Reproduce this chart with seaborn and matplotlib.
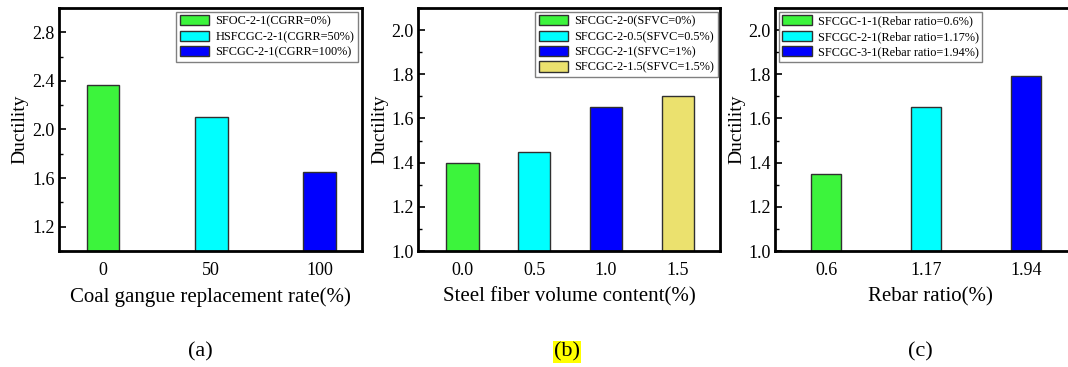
import matplotlib
matplotlib.use("Agg")
import matplotlib.pyplot as plt
import seaborn as sns
import pandas as pd
from matplotlib.ticker import MultipleLocator

# --- data ---
a_ticks = ["0", "50", "100"]
a_vals = [2.37, 2.10, 1.65]
a_names = ["SFOC-2-1(CGRR=0%)", "HSFCGC-2-1(CGRR=50%)", "SFCGC-2-1(CGRR=100%)"]

b_ticks = ["0.0", "0.5", "1.0", "1.5"]
b_vals = [1.40, 1.45, 1.65, 1.70]
b_names = ["SFCGC-2-0(SFVC=0%)", "SFCGC-2-0.5(SFVC=0.5%)",
           "SFCGC-2-1(SFVC=1%)", "SFCGC-2-1.5(SFVC=1.5%)"]

c_ticks = ["0.6", "1.17", "1.94"]
c_vals = [1.35, 1.65, 1.79]
c_names = ["SFCGC-1-1(Rebar ratio=0.6%)", "SFCGC-2-1(Rebar ratio=1.17%)",
           "SFCGC-3-1(Rebar ratio=1.94%)"]

green, cyan, blue, khaki = "#3cf43c", "#00ffff", "#0000ff", "#ebe16e"

sns.set_style("ticks")
plt.rcParams["font.family"] = ["Liberation Serif", "DejaVu Serif"]
for k in ["text.color", "axes.labelcolor", "xtick.color", "ytick.color"]:
    plt.rcParams[k] = "black"

fig = plt.figure(figsize=(10.68, 3.67), dpi=100)

# axes span from y=8px to y=251px (from top)
ybot = 1 - 251 / 367
h = (251 - 8) / 367


def panel(rect, ticks, vals, names, colors, width, xlim, ylim, major, minor,
          yticks_start, xlabel, legend_loc, legend_anchor, ylab_x):
    ax = fig.add_axes(rect)
    df = pd.DataFrame({"x": ticks, "y": vals, "name": names})
    sns.barplot(data=df, x="x", y="y", hue="name", order=ticks, hue_order=names,
                palette=colors, dodge=False, width=width, edgecolor="#303030",
                linewidth=1.0, saturation=1, ax=ax)
    ax.set_xlim(*xlim)
    ax.set_ylim(*ylim)
    ax.yaxis.set_major_locator(MultipleLocator(major))
    ax.yaxis.set_minor_locator(MultipleLocator(minor))
    yt = [t for t in ax.get_yticks() if t >= yticks_start - 1e-9 and t <= ylim[1] + 1e-9]
    ax.set_yticks(yt)
    ax.set_yticklabels([f"{t:.1f}" for t in yt])
    ax.tick_params(axis="y", which="major", direction="in", length=5, width=1.2,
                   labelsize=13, pad=3)
    ax.tick_params(axis="y", which="minor", direction="in", length=3, width=1.0)
    ax.tick_params(axis="x", length=0, labelsize=13, pad=8)
    for s in ax.spines.values():
        s.set_linewidth(2)
        s.set_color("black")
    ax.set_xlabel(xlabel, fontsize=15, labelpad=6)
    ax.set_ylabel("Ductility", fontsize=14)
    ax.yaxis.set_label_coords(ylab_x, 0.5)
    handles, labels = ax.get_legend_handles_labels()
    ax.legend(handles, labels, loc=legend_loc, bbox_to_anchor=legend_anchor,
              fontsize=8.8, frameon=True, fancybox=False, edgecolor="#808080",
              framealpha=1, handlelength=2.4, handleheight=0.9,
              labelspacing=0.25, borderpad=0.3, handletextpad=0.5,
              borderaxespad=0.3)
    return ax


panel([58.7 / 1068, ybot, 303 / 1068, h], a_ticks, a_vals, a_names,
      [green, cyan, blue], 0.30, (-0.41, 2.39), (1.0, 3.0), 0.4, 0.2, 1.2,
      "Coal gangue replacement rate(%)", "upper right", (1.0, 1.0), -0.10)

panel([418 / 1068, ybot, 302 / 1068, h], b_ticks, b_vals, b_names,
      [green, cyan, blue, khaki], 0.45, (-0.62, 3.59), (1.0, 2.1), 0.2, 0.1, 1.0,
      "Steel fiber volume content(%)", "upper right", (1.005, 1.0), -0.097)

panel([775 / 1068, ybot, 310 / 1068, h], c_ticks, c_vals, c_names,
      [green, cyan, blue], 0.30, (-0.51, 2.59), (1.0, 2.1), 0.2, 0.1, 1.0,
      "Rebar ratio(%)", "upper left", (0.0, 1.0), -0.097)

fig.text(200 / 1068, 1 - 352 / 367, "(a)", fontsize=16, ha="center", va="center")
fig.text(567 / 1068, 1 - 352 / 367, "(b)", fontsize=16, ha="center", va="center",
         bbox=dict(facecolor="#ffff00", edgecolor="none", pad=1))
fig.text(920 / 1068, 1 - 352 / 367, "(c)", fontsize=16, ha="center", va="center")

fig.savefig("out.png", dpi=100)
